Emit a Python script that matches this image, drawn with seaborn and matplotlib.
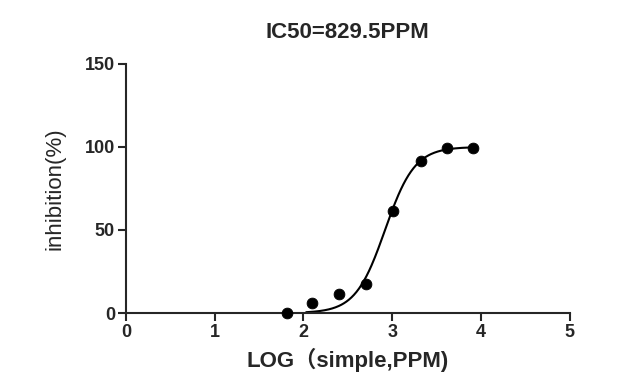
import numpy as np
import pandas as pd
import seaborn as sns
import matplotlib.pyplot as plt

# measured points: log concentration vs inhibition
log_conc = [1.81, 2.10, 2.40, 2.70, 3.01, 3.32, 3.62, 3.91]
inhibition = [0.0, 6.2, 11.3, 17.5, 61.6, 91.6, 99.2, 99.2]

# four-parameter logistic fit (IC50 = 829.5 PPM)
log_ic50 = np.log10(829.5)
hill = 2.6
top = 100.0
bottom = 0.0
fit_range = [2.03, 3.91]

x_ticks = [0, 1, 2, 3, 4, 5]
y_ticks = [0, 50, 100, 150]

df = pd.DataFrame({'x': log_conc, 'y': inhibition})
xs = np.linspace(fit_range[0], fit_range[1], 200)
fit = pd.DataFrame({'x': xs,
                    'y': bottom + (top - bottom) / (1 + 10 ** ((log_ic50 - xs) * hill))})

sns.set_style('ticks')
plt.rcParams['font.family'] = ['Liberation Sans', 'Noto Sans CJK SC']

fig = plt.figure(figsize=(6.38, 3.92), dpi=100)
ax = fig.add_axes([0.1975, 0.2015, 0.6955, 0.6355])

sns.lineplot(data=fit, x='x', y='y', color='black', linewidth=1.5, ax=ax)
sns.scatterplot(data=df, x='x', y='y', color='black', s=60, edgecolor='black',
                zorder=3, clip_on=False, ax=ax)

ax.set_xlim(0, 5)
ax.set_ylim(0, 150)
ax.set_xticks(x_ticks)
ax.set_yticks(y_ticks)
ax.tick_params(direction='out', length=6, width=1.5, labelsize=13, pad=2)
for lab in ax.get_xticklabels() + ax.get_yticklabels():
    lab.set_fontweight('bold')
for side in ['left', 'bottom']:
    ax.spines[side].set_linewidth(1.5)
sns.despine(ax=ax)

ax.set_xlabel('LOG（simple,PPM)', fontsize=16, fontweight='bold', labelpad=5)
ax.set_ylabel('inhibition(%)', fontsize=16, labelpad=14)
ax.set_title('IC50=829.5PPM', fontsize=16, fontweight='bold', pad=19)

fig.savefig('out.png', dpi=100)
